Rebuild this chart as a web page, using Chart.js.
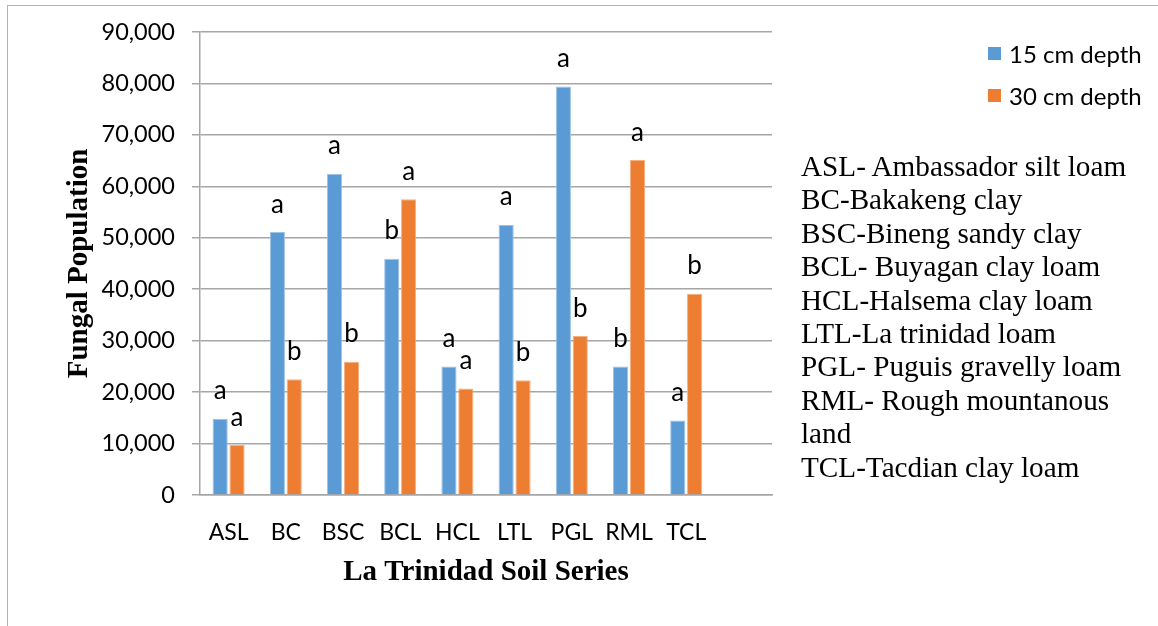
<!DOCTYPE html>
<html>
<head>
<meta charset="utf-8">
<script src="https://cdn.jsdelivr.net/npm/chart.js@4.4.1/dist/chart.umd.min.js"></script>
<style>
  html, body { margin: 0; padding: 0; background: #fff; }
  #wrap { position: relative; width: 1158px; height: 626px; overflow: hidden; }
  #frame { position: absolute; left: 7px; top: 5px; right: 0; bottom: 0;
           border-top: 1px solid #b4b4b4; border-left: 1px solid #b4b4b4; }
  #chart { position: absolute; left: 0; top: 0; }
  #legend { position: absolute; left: 988px; top: 32px; font-family: Lato, "Noto Sans", sans-serif;
            font-size: 24px; color: #000; }
  #legend .item { height: 42px; display: flex; align-items: center; white-space: pre; }
  #legend .sw { width: 13px; height: 13px; margin-right: 8px; }
  #notes { position: absolute; left: 801px; top: 150px; font-family: "Liberation Serif", "Times New Roman", serif;
           font-size: 29.2px; line-height: 33.4px; color: #000; }
  #notes div { white-space: pre; }
</style>
</head>
<body>
<div id="wrap">
  <div id="frame"></div>
  <canvas id="chart" width="1158" height="626"></canvas>
  <div id="legend"></div>
  <div id="notes"></div>
</div>
<script>
// Soil series codes (last slot left empty on the axis)
const categories = ['ASL', 'BC', 'BSC', 'BCL', 'HCL', 'LTL', 'PGL', 'RML', 'TCL', ''];

// Fungal population per series
const depth15 = [14800, 51100, 62400, 45900, 25000, 52500, 79400, 25000, 14500];
const depth30 = [9700, 22500, 25900, 57500, 20700, 22300, 30900, 65100, 39100];

// Significance letters shown above each bar
const letters15 = ['a', 'a', 'a', 'b', 'a', 'a', 'a', 'b', 'a'];
const letters30 = ['a', 'b', 'b', 'a', 'a', 'b', 'b', 'a', 'b'];

const seriesNames = ['15 cm depth', '30 cm depth'];
const seriesColors = ['#5B9BD5', '#ED7D31'];
const seriesEdges = ['#9DC3E6', '#F4B183'];

const yTicks = { min: 0, max: 90000, step: 10000 };

const noteLines = [
  'ASL- Ambassador silt loam',
  'BC-Bakakeng clay',
  'BSC-Bineng sandy clay',
  'BCL- Buyagan clay loam',
  'HCL-Halsema clay loam',
  'LTL-La trinidad loam',
  'PGL- Puguis gravelly loam',
  'RML- Rough mountanous',
  'land',
  'TCL-Tacdian clay loam'
];

const gridColor = '#a6a6a6';
const tickFont = { family: 'Lato, "Noto Sans", sans-serif', size: 23 };
const titleFont = { family: '"Liberation Serif", "Times New Roman", serif', size: 29, weight: 'bold' };

// Letters drawn just above each bar top
const letterPlugin = {
  id: 'barLetters',
  afterDatasetsDraw(chart) {
    const ctx = chart.ctx;
    const sets = [letters15, letters30];
    ctx.save();
    ctx.font = '26px Lato, "Noto Sans", sans-serif';
    ctx.fillStyle = '#000';
    ctx.textAlign = 'center';
    ctx.textBaseline = 'alphabetic';
    chart.data.datasets.forEach((ds, di) => {
      const meta = chart.getDatasetMeta(di);
      meta.data.forEach((bar, i) => {
        const t = sets[di][i];
        if (t) ctx.fillText(t, bar.x, bar.y - 19.5);
      });
    });
    ctx.restore();
  }
};

new Chart(document.getElementById('chart'), {
  type: 'bar',
  data: {
    labels: categories,
    datasets: [
      { label: seriesNames[0], data: depth15, backgroundColor: seriesColors[0],
        borderColor: seriesEdges[0], borderWidth: 1 },
      { label: seriesNames[1], data: depth30, backgroundColor: seriesColors[1],
        borderColor: seriesEdges[1], borderWidth: 1 }
    ]
  },
  options: {
    responsive: false,
    devicePixelRatio: 1,
    animation: false,
    datasets: { bar: { categoryPercentage: 0.59, barPercentage: 0.9 } },
    layout: { padding: { left: 0, top: 32, right: 386, bottom: 0 } },
    plugins: {
      legend: { display: false },
      tooltip: { enabled: false }
    },
    scales: {
      x: {
        grid: { display: false, drawTicks: false },
        border: { display: true, color: gridColor, width: 1.5 },
        ticks: { font: tickFont, color: '#000', padding: 24, maxRotation: 0, autoSkip: false },
        title: { display: true, text: 'La Trinidad Soil Series', font: titleFont, color: '#000',
                 padding: { top: 0, bottom: 36 } },
        afterFit(scale) { scale.height = 131; }
      },
      y: {
        min: yTicks.min,
        max: yTicks.max,
        ticks: { stepSize: yTicks.step, font: { family: tickFont.family, size: 23.5 }, color: '#000', padding: 17 },
        grid: { color: gridColor, lineWidth: 1.5, tickLength: 8 },
        border: { display: true, color: gridColor, width: 1.5 },
        title: { display: true, text: 'Fungal Population', font: titleFont, color: '#000',
                 padding: { top: 62, bottom: 0 } },
        afterFit(scale) { scale.width = 200; }
      }
    }
  },
  plugins: [letterPlugin]
});

// Legend entries
const legendEl = document.getElementById('legend');
seriesNames.forEach((name, i) => {
  const item = document.createElement('div');
  item.className = 'item';
  const sw = document.createElement('span');
  sw.className = 'sw';
  sw.style.background = seriesColors[i];
  item.appendChild(sw);
  item.appendChild(document.createTextNode(name));
  legendEl.appendChild(item);
});

// Series abbreviation key
const notesEl = document.getElementById('notes');
noteLines.forEach(line => {
  const d = document.createElement('div');
  d.textContent = line;
  notesEl.appendChild(d);
});
</script>
</body>
</html>
